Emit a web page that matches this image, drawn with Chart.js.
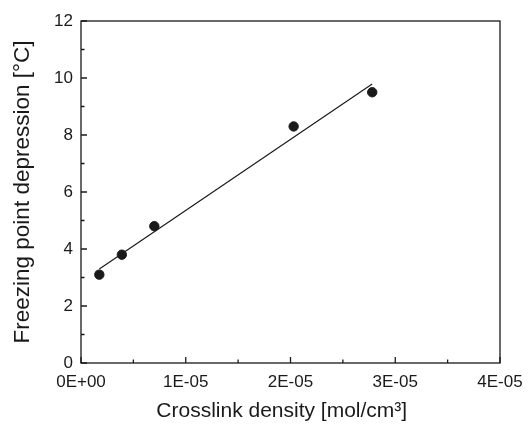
<!DOCTYPE html>
<html>
<head>
<meta charset="utf-8">
<script src="https://cdn.jsdelivr.net/npm/chart.js@4"></script>
<style>
  html, body { margin: 0; padding: 0; background: #fff; }
  #wrap { width: 528px; height: 427px; }
</style>
</head>
<body>
<div id="wrap"><canvas id="c" width="528" height="427"></canvas></div>
<script>
// measured points
const density = [1.75e-6, 3.9e-6, 7.0e-6, 2.03e-5, 2.78e-5];
const depression = [3.1, 3.8, 4.8, 8.3, 9.5];

// linear fit line, end points
const fitX = [1.75e-6, 2.78e-5];
const fitY = [3.3, 9.79];

const xTicks = [0, 1e-5, 2e-5, 3e-5, 4e-5];
const xTickLabels = ["0E+00", "1E-05", "2E-05", "3E-05", "4E-05"];
const xMinor = [0.5e-5, 1.5e-5, 2.5e-5, 3.5e-5];
const yTicks = [0, 2, 4, 6, 8, 10, 12];
const yMinor = [1, 3, 5, 7, 9, 11];

const INK = "#1a1a1a";
const FONT = "Liberation Sans, Arial, sans-serif";

// frame + inward tick marks
const framePlugin = {
    id: "frame",
    afterDraw(chart) {
        const ctx = chart.ctx;
        const a = chart.chartArea;
        const xs = chart.scales.x, ys = chart.scales.y;
        ctx.save();
        ctx.strokeStyle = INK;
        ctx.lineWidth = 1.3;
        ctx.strokeRect(a.left, a.top, a.right - a.left, a.bottom - a.top);
        ctx.beginPath();
        xTicks.forEach(v => {
            const px = xs.getPixelForValue(v);
            ctx.moveTo(px, a.bottom); ctx.lineTo(px, a.bottom - 6);
        });
        xMinor.forEach(v => {
            const px = xs.getPixelForValue(v);
            ctx.moveTo(px, a.bottom); ctx.lineTo(px, a.bottom - 3.5);
        });
        yTicks.forEach(v => {
            const py = ys.getPixelForValue(v);
            ctx.moveTo(a.left, py); ctx.lineTo(a.left + 6, py);
        });
        yMinor.forEach(v => {
            const py = ys.getPixelForValue(v);
            ctx.moveTo(a.left, py); ctx.lineTo(a.left + 3.5, py);
        });
        ctx.stroke();
        ctx.restore();
    }
};

new Chart(document.getElementById("c"), {
    type: "scatter",
    data: {
        datasets: [
            {
                label: "fit",
                type: "line",
                data: fitX.map((x, i) => ({ x: x, y: fitY[i] })),
                borderColor: INK,
                borderWidth: 1.2,
                pointRadius: 0,
                fill: false
            },
            {
                label: "data",
                data: density.map((x, i) => ({ x: x, y: depression[i] })),
                backgroundColor: INK,
                borderColor: INK,
                pointRadius: 4.7,
                pointHoverRadius: 4.7
            }
        ]
    },
    options: {
        responsive: false,
        animation: false,
        layout: { padding: { top: 21, right: 28, left: 0, bottom: 0 } },
        plugins: {
            legend: { display: false },
            tooltip: { enabled: false }
        },
        scales: {
            x: {
                type: "linear",
                min: 0,
                max: 4e-5,
                afterBuildTicks: s => { s.ticks = xTicks.map(v => ({ value: v })); },
                afterFit: s => { s.height = 64; s.paddingLeft = 0; s.paddingRight = 0; },
                grid: { display: false, drawTicks: false },
                border: { display: false },
                ticks: {
                    padding: 9,
                    color: INK,
                    font: { family: FONT, size: 17 },
                    callback: (v, i) => xTickLabels[i]
                },
                title: {
                    display: true,
                    // trailing spaces nudge the centred title left, as in the original
                    text: "Crosslink density [mol/cm³]   ",
                    color: INK,
                    font: { family: FONT, size: 21 },
                    padding: { top: 0, bottom: 3 }
                }
            },
            y: {
                min: 0,
                max: 12,
                afterBuildTicks: s => { s.ticks = yTicks.map(v => ({ value: v })); },
                afterFit: s => { s.width = 81; s.paddingTop = 0; s.paddingBottom = 0; },
                grid: { display: false, drawTicks: false },
                border: { display: false },
                ticks: {
                    padding: 8,
                    color: INK,
                    font: { family: FONT, size: 17 }
                },
                title: {
                    display: true,
                    text: "Freezing point depression [°C]",
                    color: INK,
                    font: { family: FONT, size: 22.5 },
                    padding: { top: 9, bottom: 0 }
                }
            }
        }
    },
    plugins: [framePlugin]
});
</script>
</body>
</html>
